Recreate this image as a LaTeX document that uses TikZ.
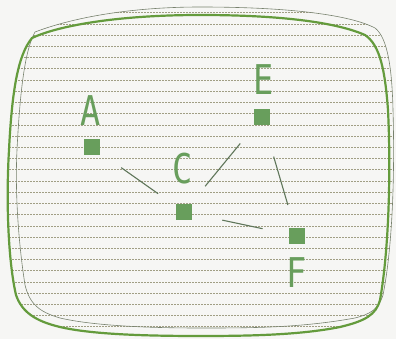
\documentclass[tikz,border=0pt]{standalone}
\usepackage{fontspec}
\newfontfamily\labelfont{DejaVu Sans Mono}
\definecolor{sqgreen}{RGB}{104,158,92}
\definecolor{framegreen}{RGB}{100,155,60}
\definecolor{thingray}{RGB}{120,130,110}
\definecolor{linkgray}{RGB}{95,118,90}
\definecolor{scangray}{RGB}{160,158,132}
\definecolor{bgcol}{RGB}{246,246,244}
\begin{document}
\begin{tikzpicture}[x=1pt,y=-1pt,
  sq/.style={fill=sqgreen, minimum size=15.5pt, inner sep=0pt, draw=none},
  lbl/.style={text=sqgreen, font=\labelfont\fontsize{41}{41}\selectfont, inner sep=0pt, xscale=0.82},
  link/.style={draw=linkgray, line width=1.1pt},
  scan/.style={draw=scangray, line width=0.9pt, dash pattern=on 2pt off 1pt},
  frame/.style={draw=framegreen, line width=2.2pt},
  thinframe/.style={draw=thingray, line width=0.6pt}]
\useasboundingbox (0,0) rectangle (396,339);
\fill[bgcol] (0,0) rectangle (396,339);
% scan lines clipped to union of both outlines
\begin{scope}
\clip (200,15) .. controls (290,15) and (340,24) .. (365,35)
 .. controls (380,45) and (385,70) .. (388,110)
 .. controls (391,170) and (389,250) .. (380,300)
 .. controls (376,315) and (365,321) .. (340,327)
 .. controls (300,335) and (250,336) .. (200,336)
 .. controls (140,336) and (90,334) .. (60,327)
 .. controls (35,321) and (22,312) .. (16,295)
 .. controls (8,260) and (6,200) .. (9,150)
 .. controls (12,90) and (18,55) .. (32,38)
 .. controls (60,25) and (120,15) .. (200,15) -- cycle
 (200,7) .. controls (290,7) and (350,15) .. (375,28)
 .. controls (388,38) and (392,70) .. (393,110)
 .. controls (395,180) and (392,250) .. (383,295)
 .. controls (378,310) and (370,314) .. (355,318)
 .. controls (300,328) and (250,328) .. (200,328)
 .. controls (140,328) and (90,325) .. (60,318)
 .. controls (40,312) and (30,305) .. (25,285)
 .. controls (18,240) and (15,190) .. (17,150)
 .. controls (20,90) and (25,50) .. (35,32)
 .. controls (80,15) and (140,7) .. (200,7) -- cycle;
\foreach \i in {0,...,28} \draw[scan] (0,{12.78+11.22*\i}) -- (396,{12.78+11.22*\i});
\end{scope}
% thin outline
\draw[thinframe] (200,7) .. controls (290,7) and (350,15) .. (375,28)
 .. controls (388,38) and (392,70) .. (393,110)
 .. controls (395,180) and (392,250) .. (383,295)
 .. controls (378,310) and (370,314) .. (355,318)
 .. controls (300,328) and (250,328) .. (200,328)
 .. controls (140,328) and (90,325) .. (60,318)
 .. controls (40,312) and (30,305) .. (25,285)
 .. controls (18,240) and (15,190) .. (17,150)
 .. controls (20,90) and (25,50) .. (35,32)
 .. controls (80,15) and (140,7) .. (200,7) -- cycle;
% thick outline
\draw[frame] (200,15) .. controls (290,15) and (340,24) .. (365,35)
 .. controls (380,45) and (385,70) .. (388,110)
 .. controls (391,170) and (389,250) .. (380,300)
 .. controls (376,315) and (365,321) .. (340,327)
 .. controls (300,335) and (250,336) .. (200,336)
 .. controls (140,336) and (90,334) .. (60,327)
 .. controls (35,321) and (22,312) .. (16,295)
 .. controls (8,260) and (6,200) .. (9,150)
 .. controls (12,90) and (18,55) .. (32,38)
 .. controls (60,25) and (120,15) .. (200,15) -- cycle;
% squares
\node[sq] (A) at (92,147) {};
\node[sq] (E) at (262,117) {};
\node[sq] (C) at (184,212) {};
\node[sq] (F) at (297,236) {};
% labels
\node[lbl] (lA) at (91,111) {A};
\node[lbl] (lE) at (264,80) {E};
\node[lbl] (lC) at (183,169) {C};
\node[lbl] (lF) at (297,273) {F};
% connectors
\draw[link, shorten <=26pt, shorten >=22pt] (A) -- (C);
\draw[link, shorten <=23pt, shorten >=24pt] (C) -- (E);
\draw[link, shorten <=33pt, shorten >=24pt] (E) -- (F);
\draw[link, shorten <=31pt, shorten >=27pt] (C) -- (F);
\end{tikzpicture}
\end{document}
